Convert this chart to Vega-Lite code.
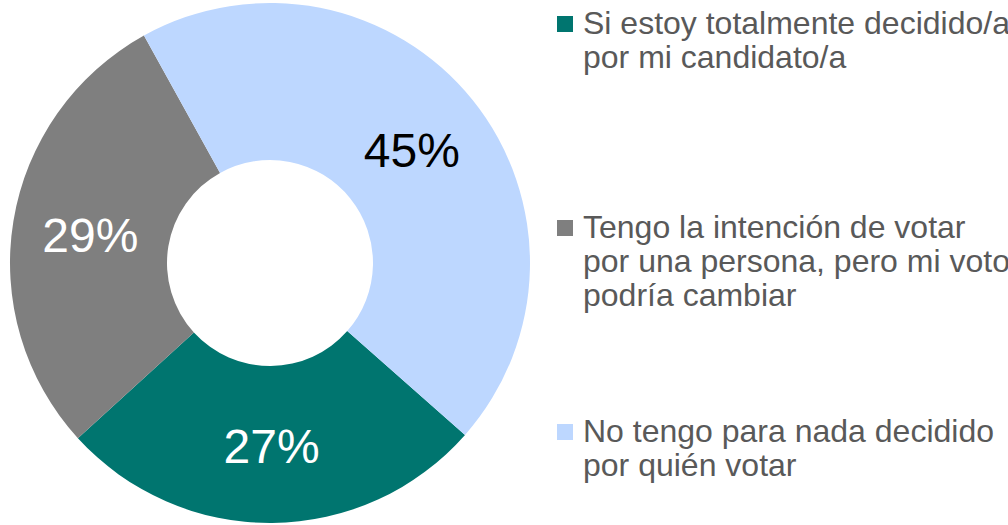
{
  "$schema": "https://vega.github.io/schema/vega-lite/v6.json",
  "width": 540,
  "height": 526,
  "padding": 0,
  "background": "white",
  "config": {"view": {"stroke": null}},
  "data": {"values": [
    {"cat": "Si estoy totalmente decidido/a|por mi candidato/a|", "pct": 27, "label": "27%", "ord": 2, "tc": "white"},
    {"cat": "Tengo la intención de votar|por una persona, pero mi voto|podría cambiar", "pct": 29, "label": "29%", "ord": 3, "tc": "white"},
    {"cat": "No tengo para nada decidido|por quién votar", "pct": 45, "label": "45%", "ord": 1, "tc": "black"}
  ]},
  "encoding": {
    "theta": {"field": "pct", "type": "quantitative", "stack": true, "scale": {"range": [-0.506, 5.777]}},
    "order": {"field": "ord", "type": "quantitative"}
  },
  "layer": [
    {
      "mark": {"type": "arc", "radius": 260, "radius2": 103},
      "encoding": {
        "color": {
          "field": "cat", "type": "nominal",
          "scale": {
            "domain": ["Si estoy totalmente decidido/a|por mi candidato/a|", "Tengo la intención de votar|por una persona, pero mi voto|podría cambiar", "No tengo para nada decidido|por quién votar"],
            "range": ["#00756F", "#7F7F7F", "#BDD7FF"]
          },
          "legend": {
            "orient": "none", "legendX": 549, "legendY": 8, "title": null,
            "symbolType": "square", "symbolSize": 256, "symbolStrokeWidth": 0,
            "labelExpr": "split(datum.label, '|')",
            "labelFont": "Liberation Sans", "labelFontSize": 32, "labelColor": "#595959",
            "labelLimit": 0, "labelOffset": 2, "labelBaseline": "middle", "labelLineHeight": 33,
            "rowPadding": 104
          }
        }
      }
    },
    {
      "mark": {"type": "text", "radius": 182, "fontSize": 48, "font": "Liberation Sans", "dy": 4},
      "encoding": {
        "text": {"field": "label"},
        "color": {"field": "tc", "type": "nominal", "scale": null}
      }
    }
  ]
}
